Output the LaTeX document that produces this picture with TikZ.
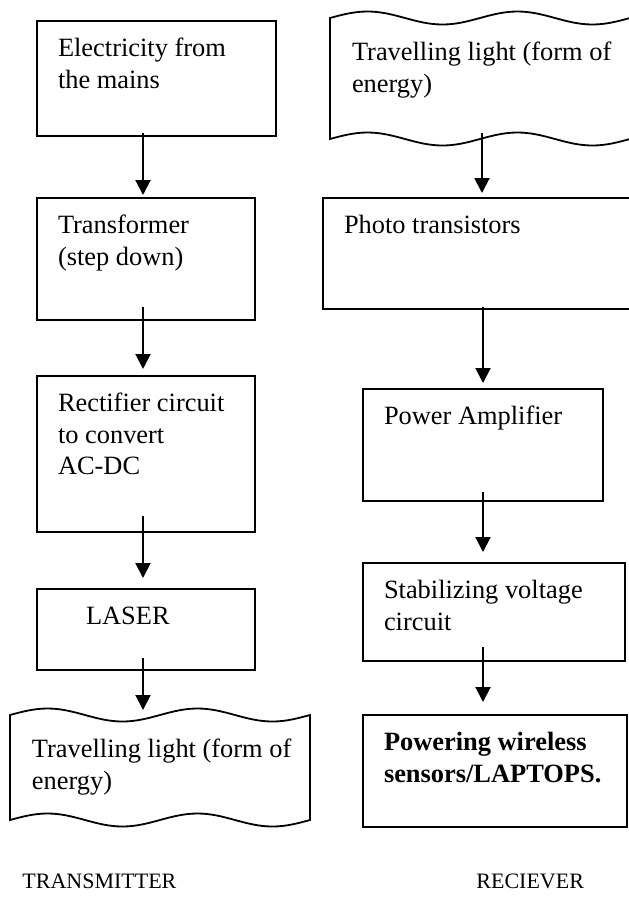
\documentclass[tikz,border=0pt]{standalone}
\usepackage{fontspec}
\setmainfont{Liberation Serif}
\usepackage{tikz}
\usetikzlibrary{positioning,arrows.meta}
\newcommand{\toptext}[3]{\parbox[c][#2][t]{#1}{\raggedright\strut #3}}
\newcommand{\tapeoutline}[1]{%
  \draw[tapeline] (#1.north west)
    sin ++(37.5,-6.5) cos ++(37.5,6.5) sin ++(37.5,6.5) cos ++(37.5,-6.5)
    sin ++(37.5,-6.5) cos ++(37.5,6.5) sin ++(37.5,6.5) cos ++(37.5,-6.5)
    -- (#1.south east)
    sin ++(-37.5,6.5) cos ++(-37.5,-6.5) sin ++(-37.5,-6.5) cos ++(-37.5,6.5)
    sin ++(-37.5,6.5) cos ++(-37.5,-6.5) sin ++(-37.5,-6.5) cos ++(-37.5,6.5)
    -- cycle;}
\tikzset{
  flowbox/.style={draw,line width=0.9pt,inner xsep=10.5pt,inner ysep=7pt,outer sep=0pt,anchor=north west},
  tapebox/.style={inner xsep=11pt,inner ysep=10.5pt,outer sep=0pt,anchor=north west},
  tapeline/.style={line width=0.9pt},
  flowarr/.style={-{Triangle[length=7.5pt,width=7.5pt]},line width=1pt},
  sidelabel/.style={anchor=base west,inner sep=0pt,font=\fontsize{11}{13}\selectfont}
}
\begin{document}
\begin{tikzpicture}[x=0.5pt,y=-0.5pt,font=\fontsize{13.2}{15.6}\selectfont]
  \useasboundingbox (0,0) rectangle (628,905);
  % transmitter side
  \node[flowbox] (elec) at (37,21) {\toptext{98.5pt}{43.5pt}{Electricity from\\the mains}};
  \node[flowbox,below right=31pt and 0pt of elec.south west] (trans) {\toptext{88pt}{47pt}{Transformer\\(step down)}};
  \node[flowbox,below right=28pt and 0pt of trans.south west] (rect) {\toptext{88pt}{64pt}{Rectifier circuit\\to convert\\AC-DC}};
  \node[flowbox,below right=28.5pt and 0pt of rect.south west] (laser) {\toptext{88pt}{26.5pt}{\hspace*{14pt}LASER}};
  \node[tapebox,below right=22.5pt and -13.5pt of laser.south west] (tlight) {\toptext{128pt}{31.5pt}{\mbox{Travelling light (form of}\\energy)}};
  \tapeoutline{tlight}
  % receiver side
  \node[tapebox] (rlight) at (330,18) {\toptext{128pt}{39.5pt}{\mbox{Travelling light (form of}\\energy)}};
  \tapeoutline{rlight}
  \node[flowbox,below right=29.5pt and -3.5pt of rlight.south west] (photo) {\toptext{133.5pt}{41.5pt}{Photo transistors}};
  \node[flowbox,below right=40pt and 20pt of photo.south west] (amp) {\toptext{99pt}{42pt}{Power Amplifier}};
  \node[flowbox,below right=31pt and 0pt of amp.south west] (stab) {\toptext{110pt}{35pt}{Stabilizing voltage\\circuit}};
  \node[flowbox,below right=27pt and 0pt of stab.south west] (power) {\toptext{111pt}{42pt}{\bfseries Powering wireless\\sensors/LAPTOPS.}};
  \draw[flowarr] ([xshift=-1.5pt,yshift=1.5pt]elec.south -| trans.north) -- ([xshift=-1.5pt,yshift=1.5pt]trans.north);
  \draw[flowarr] ([xshift=-1.5pt,yshift=6.5pt]trans.south) -- ([xshift=-1.5pt,yshift=3.5pt]rect.north);
  \draw[flowarr] ([xshift=-1.5pt,yshift=8pt]rect.south) -- ([xshift=-1.5pt,yshift=5.5pt]laser.north);
  \draw[flowarr] ([xshift=-1.5pt,yshift=6pt]laser.south) -- ([xshift=-1.5pt,yshift=2.5pt]laser.south |- tlight.north);
  \draw[flowarr] ([xshift=1pt,yshift=3pt]rlight.south) -- ([xshift=1pt,yshift=2.5pt]rlight.south |- photo.north);
  \draw[flowarr] ([yshift=1pt]photo.south -| amp.north) -- ([yshift=3pt]amp.north);
  \draw[flowarr] ([yshift=4.5pt]amp.south) -- ([yshift=5.5pt]amp.south |- stab.north);
  \draw[flowarr] ([yshift=7pt]stab.south -| amp.south) -- ([yshift=6.5pt]amp.south |- power.north);
  \node[sidelabel] (txlabel) at (22,888) {TRANSMITTER};
  \node[sidelabel] (rxlabel) at (476,888) {RECIEVER};
\end{tikzpicture}
\end{document}
